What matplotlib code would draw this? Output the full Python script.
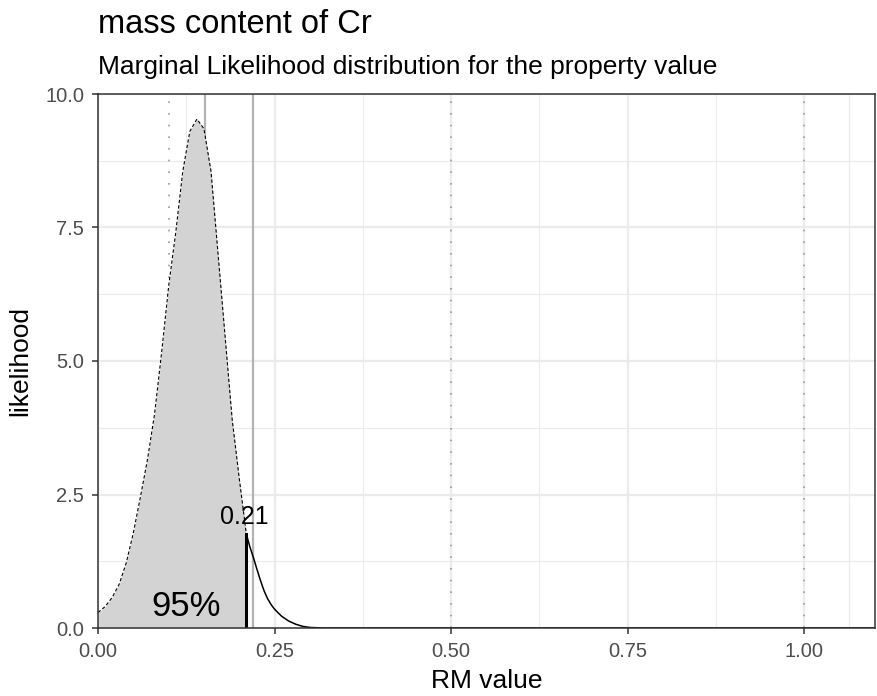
import numpy as np
import matplotlib.pyplot as plt

plt.rcParams['font.family'] = ['Liberation Sans', 'DejaVu Sans']

# likelihood curve
rm_value = [0.00, 0.01, 0.02, 0.03, 0.04, 0.05, 0.06, 0.07, 0.08, 0.09,
            0.10, 0.11, 0.12, 0.13, 0.14, 0.15, 0.16, 0.17, 0.18, 0.19,
            0.20, 0.21, 0.215, 0.22, 0.225, 0.23, 0.235, 0.24, 0.245, 0.25,
            0.26, 0.27, 0.28, 0.29, 0.30, 0.32, 1.10]
likelihood = [0.29, 0.40, 0.57, 0.82, 1.22, 1.78, 2.45, 3.15, 4.00, 5.15,
              6.40, 7.40, 8.55, 9.30, 9.53, 9.35, 8.55, 7.00, 5.45, 3.90,
              2.80, 1.76, 1.52, 1.32, 1.10, 0.89, 0.70, 0.55, 0.44, 0.35,
              0.22, 0.13, 0.07, 0.03, 0.01, 0.00, 0.00]

cutoff = 0.21
coverage_label = '95%'
dotted_refs = [0.1, 0.5, 1.0]
solid_refs = [0.151, 0.220]

x = np.array(rm_value)
y = np.array(likelihood)
inside = x <= cutoff + 1e-9
outside = x >= cutoff - 1e-9
y_cut = y[np.isclose(x, cutoff)][0]

fig = plt.figure(figsize=(8.77, 6.96), dpi=100)
ax = fig.add_axes([98 / 877, 68 / 696, 777 / 877, 534 / 696])

ax.set_xlim(0, 1.1)
ax.set_ylim(0, 10)
ax.set_xticks([0, 0.25, 0.5, 0.75, 1.0])
ax.set_xticks([0.125, 0.375, 0.625, 0.875, 1.0625], minor=True)
ax.set_yticks([0, 2.5, 5.0, 7.5, 10.0])
ax.set_yticks([1.25, 3.75, 6.25, 8.75], minor=True)
ax.set_xticklabels(['0.00', '0.25', '0.50', '0.75', '1.00'])
ax.set_yticklabels(['0.0', '2.5', '5.0', '7.5', '10.0'])
ax.grid(which='major', color='#ebebeb', linewidth=1.6, zorder=0)
ax.grid(which='minor', color='#ebebeb', linewidth=0.8, zorder=0)
ax.set_axisbelow(True)

for v in dotted_refs:
    ax.axvline(v, color='#999999', linewidth=1.2, linestyle=(0, (1, 6)), zorder=1)
for v in solid_refs:
    ax.axvline(v, color='#b3b3b3', linewidth=1.6, zorder=1)

ax.fill_between(x[inside], y[inside], 0, color='#d3d3d3', linewidth=0, zorder=2)
ax.plot(x[inside], y[inside], color='black', linewidth=0.8,
        linestyle=(0, (3, 2)), zorder=3)
ax.plot(x[outside], y[outside], color='black', linewidth=1.1, zorder=3)
ax.plot([cutoff, cutoff], [0, y_cut], color='black', linewidth=2.2, zorder=4)

ax.text(cutoff - 0.003, y_cut + 0.1, f'{cutoff:.2f}', fontsize=18, ha='center',
        va='bottom', zorder=5)
ax.text(0.125, 0.1, coverage_label, fontsize=25, ha='center', va='bottom',
        zorder=5)

for s in ax.spines.values():
    s.set_color('#333333')
    s.set_linewidth(1.1)
    s.set_zorder(6)
ax.tick_params(which='major', length=4, width=1.1, color='#333333',
               labelcolor='#4d4d4d', labelsize=14.5, pad=6)
ax.tick_params(which='minor', length=0)

ax.set_xlabel('RM value', fontsize=19, labelpad=6)
ax.set_ylabel('likelihood', fontsize=19, labelpad=9)

fig.text(98 / 877, 1 - 33 / 696, 'mass content of Cr', fontsize=23.5,
         ha='left', va='baseline')
fig.text(98 / 877, 1 - 74 / 696,
         'Marginal Likelihood distribution for the property value',
         fontsize=19, ha='left', va='baseline')

fig.savefig('out.png', dpi=100)
